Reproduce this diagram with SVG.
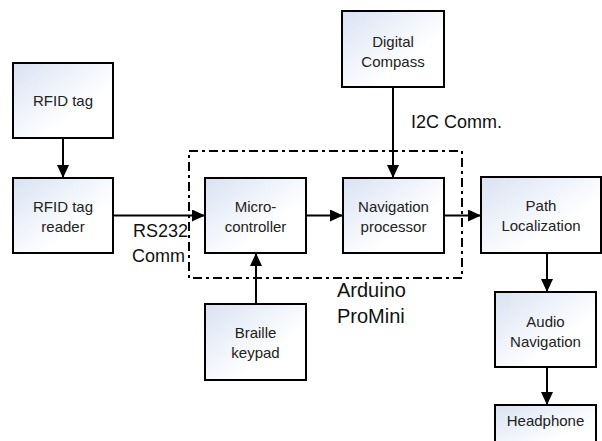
<svg xmlns="http://www.w3.org/2000/svg" width="602" height="441" viewBox="0 0 602 441">
<defs>
<linearGradient id="g" x1="0" y1="0" x2="1" y2="1">
<stop offset="0" stop-color="#d9e2f3"/>
<stop offset="0.65" stop-color="#ffffff"/>
</linearGradient>
<marker id="ah" markerUnits="userSpaceOnUse" markerWidth="14" markerHeight="12" refX="13" refY="6" orient="auto">
<path d="M0,0 L13,6 L0,12 Z" fill="#000"/>
</marker>
<style>
.box{fill:url(#g);stroke:#000;stroke-width:2}
.t{font-family:"Liberation Sans",Arial,sans-serif;font-size:15px;fill:#222;text-anchor:middle}
.l{font-family:"Liberation Sans",Arial,sans-serif;font-size:18px;fill:#111}
.c{stroke:#000;stroke-width:2;fill:none;marker-end:url(#ah)}
.dd{fill:none;stroke:#000;stroke-width:2;stroke-dasharray:9 4 3 4}
</style>
</defs>
<rect width="602" height="441" fill="#fff"/>
<g id="arduino-group">
<rect class="dd" x="189" y="151" width="273" height="127"/>
<text class="l" x="337" y="297" style="font-size:20px">Arduino</text>
<text class="l" x="337" y="323" style="font-size:20px">ProMini</text>
</g>
<g id="connectors">
<line class="c" x1="63" y1="138" x2="63" y2="178"/>
<line class="c" x1="113" y1="215.5" x2="205" y2="215.5"/>
<line class="c" x1="306" y1="215.5" x2="343" y2="215.5"/>
<line class="c" x1="393" y1="87" x2="393" y2="178"/>
<line class="c" x1="444" y1="215.5" x2="481" y2="215.5"/>
<line class="c" x1="256" y1="304" x2="256" y2="253"/>
<line class="c" x1="547" y1="253" x2="547" y2="292"/>
<line class="c" x1="547" y1="367" x2="547" y2="405"/>
<text class="l" x="133" y="237">RS232</text>
<text class="l" x="132" y="262">Comm</text>
<text class="l" x="411" y="128">I2C Comm.</text>
</g>
<g id="rfid-tag">
<rect class="box" x="13" y="63" width="100" height="75"/>
<text class="t" x="63" y="106">RFID tag</text>
</g>
<g id="rfid-reader">
<rect class="box" x="13" y="178" width="100" height="75"/>
<text class="t" x="63" y="212">RFID tag</text>
<text class="t" x="63" y="232">reader</text>
</g>
<g id="microcontroller">
<rect class="box" x="205" y="178" width="101" height="75"/>
<text class="t" x="255.5" y="212">Micro-</text>
<text class="t" x="255.5" y="232">controller</text>
</g>
<g id="navigation-processor">
<rect class="box" x="343" y="178" width="101" height="75"/>
<text class="t" x="393.5" y="212">Navigation</text>
<text class="t" x="393.5" y="232">processor</text>
</g>
<g id="digital-compass">
<rect class="box" x="342" y="11" width="102" height="76"/>
<text class="t" x="393" y="47">Digital</text>
<text class="t" x="393" y="67">Compass</text>
</g>
<g id="path-localization">
<rect class="box" x="481" y="177" width="120" height="76"/>
<text class="t" x="541" y="211">Path</text>
<text class="t" x="541" y="231">Localization</text>
</g>
<g id="audio-navigation">
<rect class="box" x="495" y="292" width="101" height="75"/>
<text class="t" x="545.5" y="327">Audio</text>
<text class="t" x="545.5" y="347">Navigation</text>
</g>
<g id="braille-keypad">
<rect class="box" x="205" y="304" width="101" height="76"/>
<text class="t" x="255.5" y="338">Braille</text>
<text class="t" x="255.5" y="358">keypad</text>
</g>
<g id="headphone">
<rect class="box" x="495" y="405" width="101" height="50"/>
<text class="t" x="545.5" y="426">Headphone</text>
</g>
</svg>
